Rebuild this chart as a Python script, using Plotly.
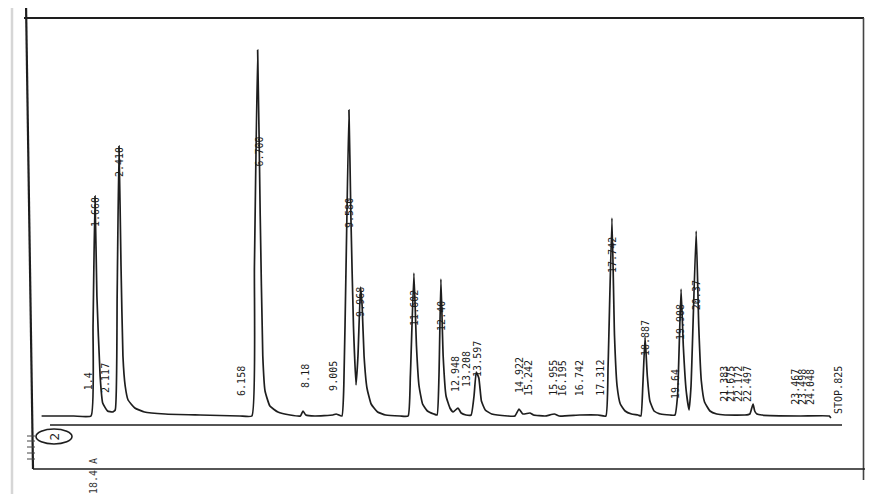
import plotly.graph_objects as go

# ---- chromatogram trace (time in min, detector signal) ----
time_min = [0.0, 1.0, 1.537, 1.60, 1.661, 1.72, 1.82, 1.90, 2.05, 2.20, 2.29, 2.35, 2.407, 2.47, 2.53,
            2.60, 2.69, 2.90, 3.20, 3.84, 4.93, 6.17, 6.54, 6.62, 6.72, 6.80, 6.88, 6.95, 7.10, 7.35,
            7.73, 8.05, 8.13, 8.22, 8.50, 9.06, 9.16, 9.34, 9.40, 9.47, 9.56, 9.62, 9.70, 9.78, 9.84,
            9.92, 9.97, 10.03, 10.12, 10.25, 10.45, 10.70, 11.15, 11.40, 11.47, 11.58, 11.66, 11.74,
            11.85, 12.00, 12.20, 12.30, 12.36, 12.42, 12.49, 12.58, 12.70, 12.80, 12.95, 13.05, 13.20,
            13.36, 13.45, 13.52, 13.60, 13.68, 13.80, 14.00, 14.50, 14.72, 14.85, 14.97, 15.19, 15.30,
            15.66, 15.95, 16.10, 16.74, 17.30, 17.55, 17.62, 17.74, 17.82, 17.90, 18.00, 18.15, 18.35,
            18.55, 18.64, 18.70, 18.77, 18.84, 18.92, 19.05, 19.25, 19.55, 19.70, 19.78, 19.89, 19.96,
            20.05, 20.14, 20.20, 20.36, 20.44, 20.52, 20.62, 20.79, 21.00, 21.26, 21.88, 22.03, 22.09,
            22.13, 22.18, 22.25, 22.40, 23.60, 24.50, 24.55]
signal = [0, 0, 0, 90, 220, 120, 40, 13, 5, 4, 6, 120, 270, 150, 60,
          30, 16, 8, 4, 2, 1, 0, 0, 150, 366, 200, 60, 25, 10, 4,
          1, 0, 5, 1, 0, 1, 2, 0, 30, 150, 306, 200, 90, 31, 60,
          129, 110, 60, 28, 12, 4, 1, 0, 0, 40, 143, 70, 30,
          12, 5, 2, 1, 40, 137, 60, 20, 8, 4, 8, 3, 1,
          1, 20, 44, 38, 15, 6, 2, 0, 0, 7, 2, 3, 1,
          0, 2, 0, 1, 1, 0, 50, 198, 80, 30, 12, 5, 2,
          1, 0, 30, 79, 40, 15, 5, 2, 1, 1, 20, 127, 70,
          25, 6, 30, 185, 90, 35, 14, 5, 2, 1, 1, 2, 8,
          12, 5, 2, 1, 0, 0, -2]

# ---- printed retention-time labels ----
label_text = ["1.4", "1.660", "2.117", "2.410", "6.158", "6.700", "8.18", "9.005", "9.580", "9.968",
              "11.602", "12.40", "12.948", "13.208", "13.597", "14.922", "15.242", "15.955", "16.195",
              "16.742", "17.312", "17.742", "18.887", "19.64", "19.908", "20.37", "21.383", "21.675",
              "22.172", "22.497", "23.467", "23.498", "24.048", "STOP.825"]
label_time = [1.45, 1.66, 1.97, 2.41, 6.20, 6.75, 8.19, 9.06, 9.56, 9.90,
              11.58, 12.42, 12.86, 13.20, 13.54, 14.85, 15.13, 15.90, 16.20,
              16.72, 17.36, 17.74, 18.77, 19.70, 19.86, 20.36, 21.22, 21.41,
              21.66, 21.94, 23.43, 23.65, 23.90, 24.77]
label_level = [35, 204, 38, 254, 35, 264, 40, 40, 203, 114,
               108, 100, 42, 47, 57, 41, 38, 38, 38,
               38, 38, 161, 78, 32, 94, 121, 32, 32,
               32, 32, 29, 29, 29, 26]

PAGE_W, PAGE_H = 873, 502
OFF = 8                       # default body margin of the html page
W, H = PAGE_W - OFF, PAGE_H - 2 * OFF
PX_PER_MIN = 32.15
X0_PX = 41.6
BASE_PX = 416


def px(x):
    return (x - OFF) / W


def py(y):
    return 1 - (y - OFF) / H


INK = "#1e1e1e"

fig = go.Figure()
fig.add_trace(go.Scatter(x=time_min, y=signal, mode="lines",
                         line=dict(color=INK, width=1.7, shape="spline", smoothing=0.4),
                         hoverinfo="skip", showlegend=False))

for txt, t, lv in zip(label_text, label_time, label_level):
    fig.add_annotation(x=t, y=lv, text=txt, textangle=-90, showarrow=False,
                       xanchor="center", yanchor="middle",
                       font=dict(family="DejaVu Sans Mono", size=10, color="#1a1a1a"))

shapes = []
def seg(x0, y0, x1, y1, w=1.8, c=INK):
    shapes.append(dict(type="line", xref="paper", yref="paper",
                       x0=px(x0), y0=py(y0), x1=px(x1), y1=py(y1),
                       line=dict(color=c, width=w)))

seg(12, 0, 12, 502, 2.5, "#d6d6d6")      # page edge shadow
seg(24, 18, 864, 18, 2.2)                # top frame
seg(26, 2, 33, 469, 2.2)                 # left frame
seg(863.5, 18, 863.5, 480, 1.6, "#444444")   # right frame
seg(33, 469, 873, 469, 1.6)              # bottom line
seg(50, 425, 842, 425, 1.6)              # chart baseline rule
for yy in (436, 441, 447, 453, 459):
    seg(27, yy, 35, yy, 1.0, "#444444")
shapes.append(dict(type="circle", xref="paper", yref="paper",
                   x0=px(36), x1=px(72), y0=py(444), y1=py(429),
                   line=dict(color=INK, width=1.6)))
fig.update_layout(shapes=shapes)

fig.add_annotation(xref="paper", yref="paper", x=px(54), y=py(436.5), text="2", textangle=-90,
                   showarrow=False, xanchor="center", yanchor="middle",
                   font=dict(family="DejaVu Sans", size=12, color=INK))
fig.add_annotation(xref="paper", yref="paper", x=px(93), y=py(476), text="18.4 A", textangle=-90,
                   showarrow=False, xanchor="center", yanchor="middle",
                   font=dict(family="DejaVu Sans Mono", size=10, color="#333333"))

fig.update_layout(
    width=W, height=H,
    margin=dict(l=0, r=0, t=0, b=0),
    paper_bgcolor="white", plot_bgcolor="white",
    xaxis=dict(range=[(OFF - X0_PX) / PX_PER_MIN, (PAGE_W - X0_PX) / PX_PER_MIN],
               visible=False, fixedrange=True),
    yaxis=dict(range=[BASE_PX - (OFF + H), BASE_PX - OFF], visible=False, fixedrange=True),
)

fig.write_html("out.html")
